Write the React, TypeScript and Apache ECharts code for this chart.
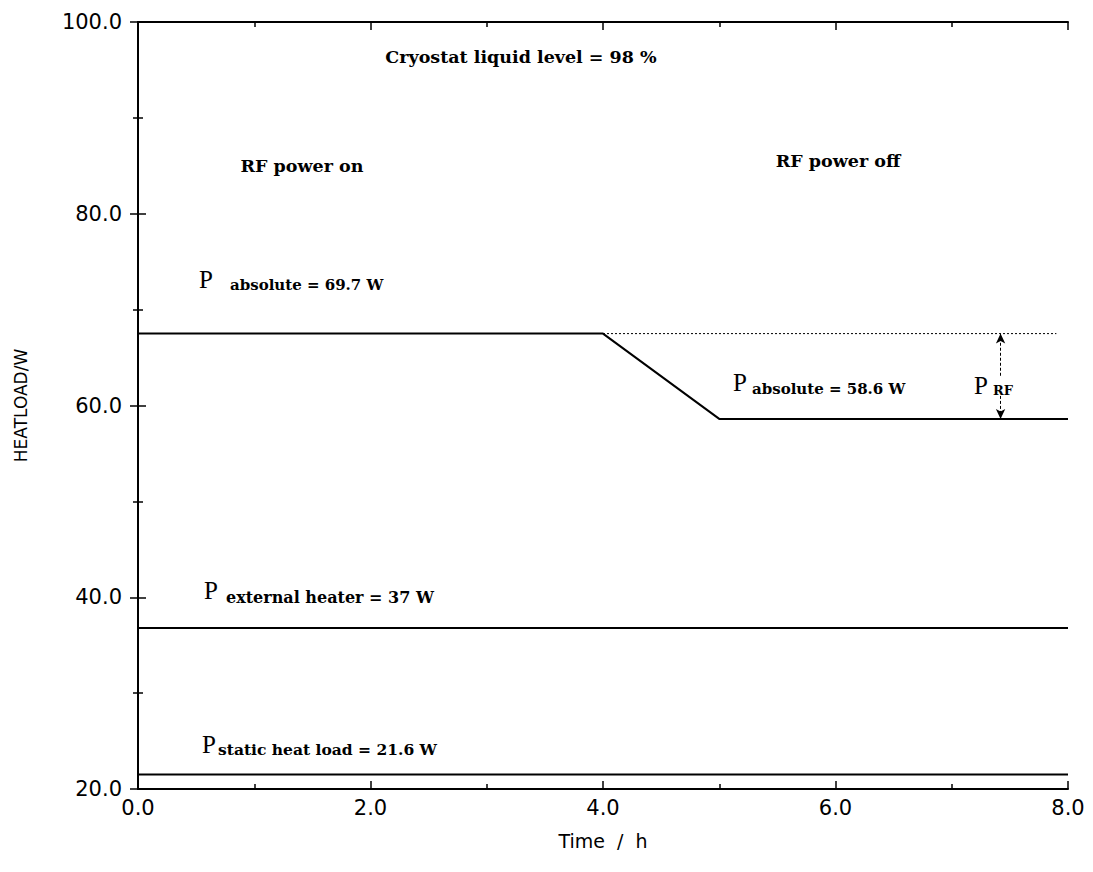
import React, { useEffect, useRef } from "react";
import * as echarts from "echarts";

const xTicks = [0, 2, 4, 6, 8];
const yTicks = [20, 40, 60, 80, 100];
const absoluteLine: [number, number][] = [[0, 67.5], [4, 67.5], [5, 58.6], [8, 58.6]];
const rfOnReference: [number, number][] = [[4, 67.5], [7.9, 67.5]];
const heaterLine: [number, number][] = [[0, 36.8], [8, 36.8]];
const staticLine: [number, number][] = [[0, 21.5], [8, 21.5]];
const arrowX = 7.42;
const arrowTop = 67.5;
const arrowBottom = 58.6;
const arrowGapTop = 63.1;
const arrowGapBottom = 61.0;

const serif = "'DejaVu Serif', 'Liberation Serif', serif";
const pSerif = "'Liberation Serif', serif";
const sans = "'DejaVu Sans', sans-serif";

export default function App() {
  const ref = useRef<HTMLDivElement>(null);
  useEffect(() => {
    if (!ref.current) return;
    const chart = echarts.init(ref.current, undefined, { renderer: "svg" });
    const axisCommon = {
      axisLine: { show: true, lineStyle: { color: "#000", width: 2 } },
      axisTick: { show: true, inside: true, length: 8, lineStyle: { color: "#000", width: 1.5 } },
      minorTick: { show: true, splitNumber: 2, length: 5, lineStyle: { color: "#000", width: 1.5 } },
      splitLine: { show: false },
    };
    const lineStyle = { color: "#000", width: 2 };
    const mkLine = (data: [number, number][], extra: any = {}) => ({
      type: "line",
      data,
      symbol: "none",
      lineStyle: { ...lineStyle, ...extra },
      silent: true,
    });
    const t = (x: number, y: number, text: string, font: string, align = "left") => ({
      type: "text",
      x,
      y,
      style: { text, font, fill: "#000", align, verticalAlign: "middle" },
    });
    chart.setOption({
      animation: false,
      backgroundColor: "#fff",
      grid: { left: 138, right: 25, top: 22, bottom: 83 },
      xAxis: [
        {
          type: "value",
          min: xTicks[0],
          max: xTicks[xTicks.length - 1],
          interval: 2,
          position: "bottom",
          name: "Time  /  h",
          nameLocation: "middle",
          nameGap: 42,
          nameTextStyle: { fontFamily: sans, fontSize: 19, color: "#000" },
          axisLabel: {
            color: "#000",
            fontFamily: sans,
            fontSize: 21,
            margin: 8,
            formatter: (v: number) => v.toFixed(1),
          },
          ...axisCommon,
        },
        {
          type: "value",
          min: xTicks[0],
          max: xTicks[xTicks.length - 1],
          interval: 2,
          position: "top",
          axisLabel: { show: false },
          ...axisCommon,
        },
      ],
      yAxis: [
        {
          type: "value",
          min: yTicks[0],
          max: yTicks[yTicks.length - 1],
          interval: 20,
          position: "left",
          name: "HEATLOAD/W",
          nameLocation: "middle",
          nameGap: 109,
          nameRotate: 90,
          nameTextStyle: { fontFamily: sans, fontSize: 17, color: "#000" },
          axisLabel: {
            color: "#000",
            fontFamily: sans,
            fontSize: 21,
            margin: 16,
            formatter: (v: number) => v.toFixed(1),
          },
          ...axisCommon,
        },
        {
          type: "value",
          min: yTicks[0],
          max: yTicks[yTicks.length - 1],
          interval: 20,
          position: "right",
          axisLabel: { show: false },
          ...axisCommon,
        },
      ],
      series: [
        mkLine(absoluteLine),
        mkLine(rfOnReference, { width: 1, type: [2, 2] }),
        mkLine(heaterLine),
        mkLine(staticLine),
        {
          type: "line",
          data: [],
          silent: true,
          markLine: {
            silent: true,
            symbol: ["none", "arrow"],
            symbolSize: [7, 10],
            label: { show: false },
            lineStyle: { color: "#000", width: 1, type: [3, 2] },
            data: [
              [{ coord: [arrowX, arrowGapTop] }, { coord: [arrowX, arrowTop] }],
              [{ coord: [arrowX, arrowGapBottom] }, { coord: [arrowX, arrowBottom] }],
            ],
          },
        },
      ],
      graphic: [
        t(521, 57, "Cryostat liquid level = 98 %", `bold 17.5px ${serif}`, "center"),
        t(302, 166, "RF power on", `bold 17.5px ${serif}`, "center"),
        t(838, 161, "RF power off", `bold 17.5px ${serif}`, "center"),
        t(199, 279, "P", `25px ${pSerif}`),
        t(230, 285, "absolute = 69.7 W", `bold 15px ${serif}`),
        t(733, 382, "P", `25px ${pSerif}`),
        t(752, 389, "absolute = 58.6 W", `bold 15px ${serif}`),
        t(974, 385, "P", `25px ${pSerif}`),
        t(993, 390, "RF", `bold 13px ${serif}`),
        t(204, 590, "P", `25px ${pSerif}`),
        t(226, 597, "external heater = 37 W", `bold 16px ${serif}`),
        t(202, 744, "P", `25px ${pSerif}`),
        t(218, 749, "static heat load = 21.6 W", `bold 15.5px ${serif}`),
      ],
    });
    return () => chart.dispose();
  }, []);
  return (
    <div
      ref={ref}
      style={{ position: "fixed", left: 0, top: 0, width: 1093, height: 872, background: "#fff" }}
    />
  );
}
